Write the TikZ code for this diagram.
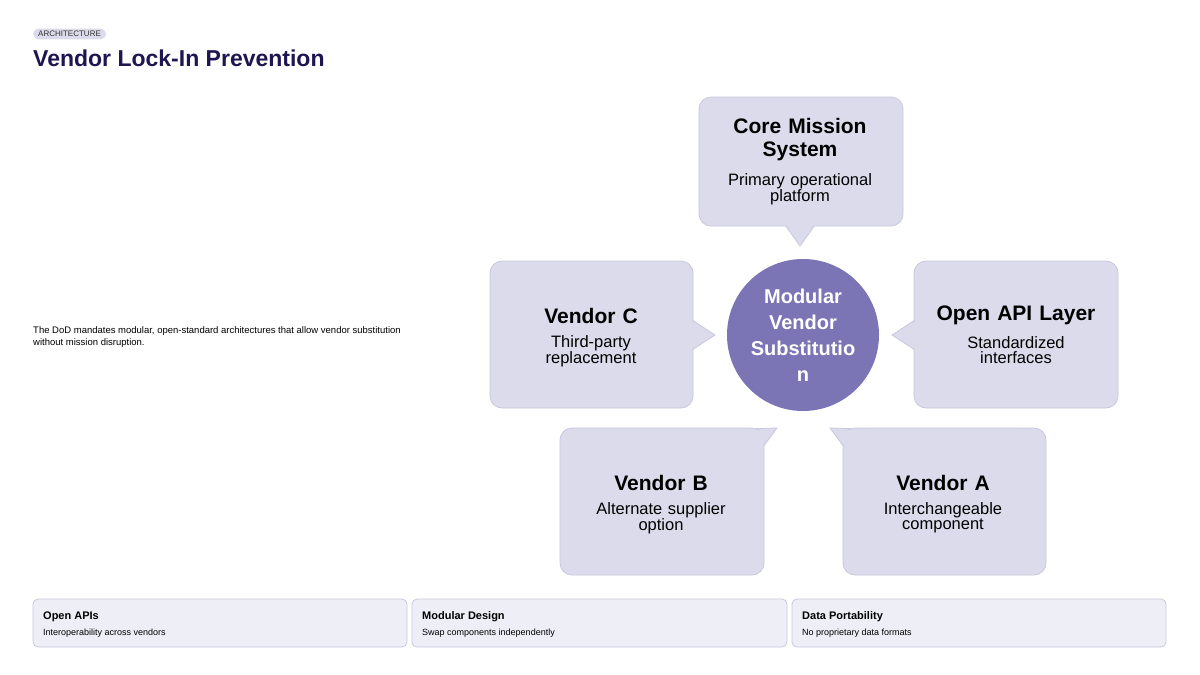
\documentclass[tikz,border=0pt]{standalone}
\usepackage{fontspec}
\setmainfont{Liberation Sans}
\begin{document}
\begin{tikzpicture}[x=1pt,y=-1pt,
  box/.style={fill=boxc,draw=boxb,line width=0.8pt,rounded corners=12pt},
  tail/.style={fill=boxc,draw=boxb,line width=0.8pt},
  ttl/.style={font=\fontsize{21}{23}\selectfont\bfseries,text=black,align=center,text width=190pt},
  sub/.style={font=\fontsize{16.5}{15}\selectfont,text=black,align=center,text width=190pt},
  card/.style={fill=cardc,draw=boxb,line width=0.8pt,rounded corners=5pt}]
\definecolor{boxc}{HTML}{DCDBEB}
\definecolor{boxb}{HTML}{C9C8DF}
\definecolor{cardc}{HTML}{EEEEF7}
\definecolor{circc}{HTML}{7B74B5}
\definecolor{navy}{HTML}{1F1651}
\useasboundingbox (0,0) rectangle (1200,675);
\fill[white] (0,0) rectangle (1200,675);
% header
\node[fill=boxc,rounded corners=5pt,inner xsep=5pt,inner ysep=2.5pt,anchor=west,font=\fontsize{8}{9}\selectfont,text=black!80] (tag) at (33,34) {ARCHITECTURE};
\node[anchor=west,inner sep=0,font=\fontsize{23}{26}\selectfont\bfseries,text=navy] (title) at (33,58) {Vendor Lock-In Prevention};
\node[anchor=west,inner sep=0,align=left,font=\fontsize{9.5}{11.5}\selectfont] (desc) at (33,337) {The DoD mandates modular, open-standard architectures that allow vendor substitution\\without mission disruption.};
% tails
\filldraw[tail] (785,225) -- (800,246) -- (815,225);
\filldraw[tail] (692,320) -- (715,335) -- (692,350);
\filldraw[tail] (915,320) -- (892,335) -- (915,350);
\filldraw[tail] (745,429) -- (777,428) -- (763,447);
\filldraw[tail] (862,429) -- (830,428) -- (844,447);
% boxes
\draw[box] (699,97) rectangle (903,226);
\draw[box] (490,261) rectangle (693,408);
\draw[box] (914,261) rectangle (1118,408);
\draw[box] (560,428) rectangle (764,575);
\draw[box] (843,428) rectangle (1046,575);
\fill[boxc] (786,224) -- (800,244) -- (814,224) -- cycle;
\fill[boxc] (690,321) -- (713,335) -- (690,349) -- cycle;
\fill[boxc] (917,321) -- (894,335) -- (917,349) -- cycle;
\fill[boxc] (746,431) -- (774,429.5) -- (762,446) -- cycle;
\fill[boxc] (861,431) -- (833,429.5) -- (845,446) -- cycle;
% texts
\node[ttl] (t1) at (800,140) {Core Mission\\System};
\node[sub] (s1) at (800,189) {Primary operational\\platform};
\node[ttl] (t2) at (591,316) {Vendor C};
\node[sub] (s2) at (591,351) {Third-party\\replacement};
\node[ttl] (t3) at (1016,315) {Open API Layer};
\node[sub] (s3) at (1016,350) {Standardized\\interfaces};
\node[ttl] (t4) at (661,483) {Vendor B};
\node[sub] (s4) at (661,518) {Alternate supplier\\option};
\node[ttl] (t5) at (943,483) {Vendor A};
\node[sub] (s5) at (943,518) {Interchangeable\\component};
% circle
\node[circle,fill=circc,minimum size=152pt,inner sep=0,text=white,align=center,font=\fontsize{20}{26}\selectfont\bfseries] (c) at (803,335) {Modular\\Vendor\\Substitutio\\n};
% cards
\draw[card] (33,599) rectangle (407,647);
\draw[card] (412,599) rectangle (787,647);
\draw[card] (792,599) rectangle (1166,647);
\node[anchor=west,inner sep=0,font=\fontsize{11}{13}\selectfont\bfseries] (a1) at (43,617) {Open APIs};
\node[anchor=west,inner sep=0,font=\fontsize{9}{11}\selectfont] (b1) at (43,633) {Interoperability across vendors};
\node[anchor=west,inner sep=0,font=\fontsize{11}{13}\selectfont\bfseries] (a2) at (422,617) {Modular Design};
\node[anchor=west,inner sep=0,font=\fontsize{9}{11}\selectfont] (b2) at (422,633) {Swap components independently};
\node[anchor=west,inner sep=0,font=\fontsize{11}{13}\selectfont\bfseries] (a3) at (802,617) {Data Portability};
\node[anchor=west,inner sep=0,font=\fontsize{9}{11}\selectfont] (b3) at (802,633) {No proprietary data formats};
\end{tikzpicture}
\end{document}
